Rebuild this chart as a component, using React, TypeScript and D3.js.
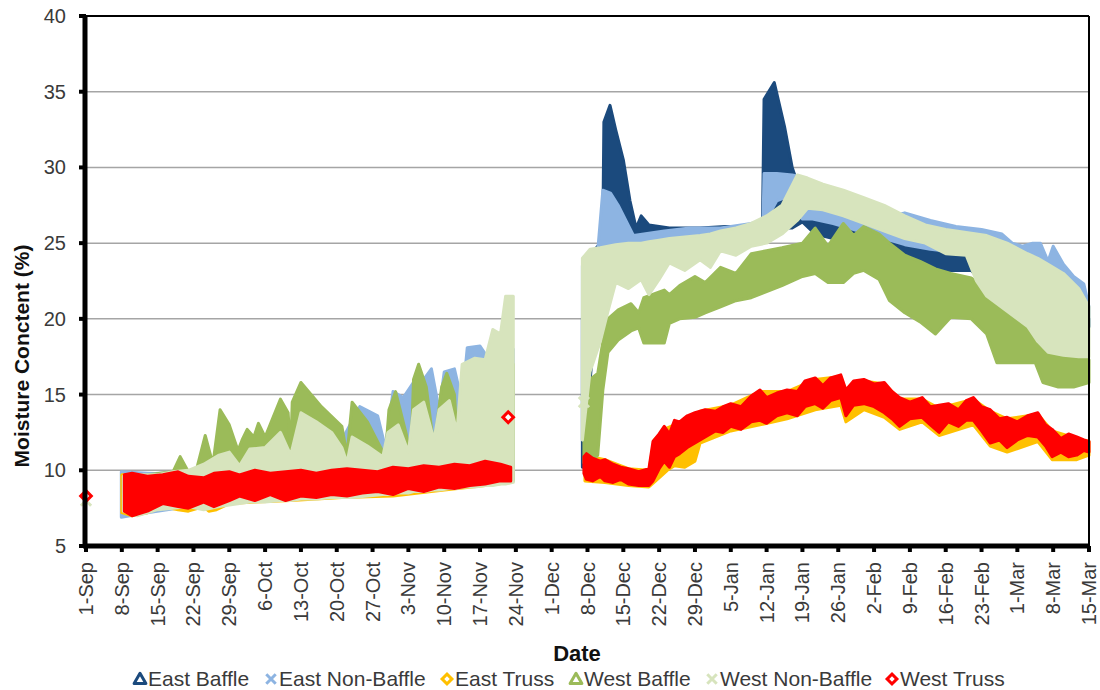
import * as d3 from 'd3';

// day offsets from 1-Sep-2011, [day, low, high] of each dense marker band
const START = Date.UTC(2011, 8, 1);
const LAST_DAY = 196;

const eastBaffleFall = [
  [7.3, 7.2, 9.7], [30, 8.0, 10.0], [60, 8.5, 10.5], [67.5, 9.0, 10.0],
  [68.2, 9.8, 12.3], [69.5, 10.0, 11.5], [70.5, 9.2, 10.0], [83.5, 9.4, 9.9],
];
const eastBaffleWinter = [
  [97, 10.2, 20.0], [98, 14.0, 24.0], [100.5, 23.5, 25.0], [101, 25.5, 26.0],
  [101.2, 25.5, 33.0], [102.4, 25.5, 34.1], [103.5, 25.5, 32.5], [105, 25.5, 30.5],
  [106.3, 25.5, 27.8], [107.5, 25.5, 26.0], [108.5, 25.6, 26.8], [110, 25.6, 26.2],
  [114, 25.6, 26.0], [120, 25.7, 26.0], [125, 25.8, 26.1], [130, 25.9, 26.1],
  [132.2, 25.9, 26.4], [132.5, 26.0, 34.5], [134.5, 26.0, 35.6], [136.5, 26.0, 32.7],
  [138, 26.0, 30.0], [140, 26.4, 28.0], [142.5, 25.6, 27.0], [146, 25.3, 26.6],
  [150, 24.9, 26.2], [154, 24.5, 25.8], [158, 24.0, 25.4], [162, 23.7, 25.0],
  [165, 23.2, 24.5], [168, 23.2, 24.3], [173, 23.2, 24.1], [175, 22.5, 23.0],
  [180, 21.5, 22.0], [185, 20.7, 21.2], [188, 20.6, 21.2], [196, 19.5, 20.0],
];

const eastNonBaffleFall = [
  [6.9, 6.9, 9.9], [12, 7.2, 9.8], [20, 7.6, 9.7], [30, 8.0, 10.2], [40, 8.2, 11.0],
  [50, 8.3, 12.0], [53.5, 8.4, 14.2], [57, 8.5, 13.6], [58.5, 8.6, 11.5],
  [60, 8.6, 15.2], [62, 8.7, 14.8], [64, 8.8, 15.8], [66, 8.8, 16.0],
  [67.5, 8.9, 16.7], [69, 9.0, 14.0], [70, 9.0, 16.5], [72, 9.1, 16.7],
  [73.5, 9.1, 14.5], [74.5, 9.2, 18.1], [77, 9.2, 18.2], [79, 9.3, 17.2],
  [81, 9.4, 18.3], [83.5, 9.5, 18.0],
];
const eastNonBaffleWinter = [
  [97, 12.0, 23.5], [98, 19.0, 24.0], [100, 22.5, 24.5], [101, 24.0, 28.5],
  [102.5, 24.2, 28.3], [104, 24.5, 27.5], [105.5, 24.7, 26.5], [107, 24.8, 25.5],
  [109, 25.0, 25.6], [113, 25.3, 25.8], [118, 25.5, 26.0], [124, 25.6, 26.0],
  [130, 25.8, 26.3], [132.3, 26.0, 26.5], [132.5, 26.3, 29.6], [135, 27.8, 29.6],
  [138, 28.2, 29.5], [139.5, 26.8, 29.4], [140, 26.6, 28.0], [142, 26.6, 27.6],
  [146, 26.3, 27.2], [150, 25.9, 26.8], [155, 25.4, 26.6], [160, 24.9, 27.0],
  [165, 24.6, 26.5], [170, 24.4, 26.1], [175, 24.2, 25.9], [179, 23.8, 25.6],
  [181, 23.3, 25.0], [183, 22.8, 24.8], [185, 22.4, 25.0], [186.5, 22.0, 25.0],
  [188, 21.5, 23.8], [189, 21.3, 24.8], [191, 21.0, 23.6], [193, 20.5, 22.8],
  [195, 20.0, 22.3], [196, 19.5, 20.8],
];

const eastTrussFall = [
  [7.0, 7.2, 9.7], [9, 7.0, 9.7], [12, 7.2, 9.5], [15, 7.6, 9.6], [18, 7.4, 9.8],
  [20, 7.3, 9.5], [23, 7.6, 9.4], [24, 7.3, 9.6], [25.5, 7.4, 9.7], [28, 7.8, 9.8],
  [33, 7.9, 9.9], [40, 8.0, 9.8], [50, 8.2, 9.9], [60, 8.3, 10.0], [70, 8.7, 10.1],
  [78, 9.0, 10.4], [83, 9.2, 10.1],
];
const eastTrussWinter = [
  [97.5, 9.3, 11.0], [101.4, 9.2, 10.7], [106, 9.0, 10.1], [110, 8.9, 10.0],
  [111, 9.2, 12.0], [113.6, 10.0, 12.8], [115, 10.3, 13.0], [117, 10.2, 13.2],
  [119, 10.6, 13.6], [120, 11.8, 13.9], [126, 12.6, 14.3], [131.7, 13.0, 15.2],
  [137, 13.4, 15.2], [142.5, 14.0, 16.0], [147.5, 14.3, 16.2], [148.5, 13.2, 15.2],
  [152, 14.0, 15.9], [156, 13.5, 15.7], [159, 12.7, 14.7], [163.4, 13.2, 14.7],
  [166.7, 12.3, 14.1], [173.4, 13.0, 14.7], [176.7, 11.6, 13.9], [180, 11.2, 13.4],
  [186, 11.9, 13.7], [188.8, 10.7, 12.6], [193.6, 10.7, 12.1], [196, 11.0, 11.9],
];

const westBaffleFall = [
  [7.3, 8.5, 9.5], [17, 9.0, 9.9], [18.4, 9.0, 10.9], [20, 9.0, 9.9], [21.7, 9.0, 10.2],
  [23.3, 9.0, 12.3], [24.8, 9.0, 10.4], [26.2, 9.0, 14.0], [28, 9.0, 13.0],
  [29.7, 9.0, 11.3], [30.5, 9.0, 12.0], [31.5, 9.0, 12.7], [32.8, 9.0, 12.2],
  [33.7, 9.0, 13.1], [35, 9.0, 12.2], [38, 9.0, 14.7], [39.5, 9.0, 13.8],
  [40, 9.0, 11.2], [40.3, 9.0, 14.5], [42, 9.0, 15.8], [46, 9.0, 14.2],
  [50, 9.0, 12.9], [51, 9.0, 11.0], [52, 9.0, 14.5], [55, 9.0, 13.2],
  [58.5, 9.0, 10.9], [59.2, 9.0, 14.0], [60.5, 9.0, 15.2], [62.5, 9.0, 12.5],
  [63.5, 9.0, 11.0], [64, 9.0, 16.0], [65, 9.0, 17.0], [66.5, 9.0, 15.5],
  [68, 9.0, 11.5], [69.5, 9.0, 15.5], [70.5, 9.0, 16.4], [72, 9.0, 15.0],
  [72.8, 9.0, 10.5], [81.5, 9.3, 10.0], [82, 9.3, 17.3], [83.5, 9.3, 17.0],
];
const westBaffleWinter = [
  [97.3, 10.5, 14.0], [98.5, 10.5, 16.0], [100, 11.0, 16.4], [101, 15.3, 18.5],
  [102, 17.8, 20.0], [104, 18.6, 20.6], [106.5, 19.2, 21.0], [108, 19.4, 20.4],
  [109, 18.4, 21.4], [113, 18.4, 21.9], [114, 19.7, 21.6], [116, 20.0, 22.2],
  [119, 20.1, 22.8], [121, 20.4, 22.4], [124, 20.8, 23.4], [127, 21.2, 23.0],
  [130, 21.4, 24.3], [133, 21.8, 24.5], [136, 22.2, 24.7], [140, 22.8, 25.0],
  [142.5, 23.0, 26.0], [145, 22.4, 24.8], [148, 22.4, 26.3], [150, 23.0, 25.5],
  [152, 23.2, 26.1], [155, 22.6, 25.6], [157, 21.2, 25.0], [160, 20.4, 24.2],
  [163, 19.8, 23.8], [166, 19.0, 23.3], [169, 20.1, 23.0], [173, 20.0, 22.7],
  [176, 19.0, 22.0], [178, 17.1, 21.7], [182, 17.1, 21.0], [185.5, 17.1, 20.4],
  [187, 15.8, 18.0], [190, 15.5, 17.6], [193, 15.5, 17.5], [196, 15.8, 17.3],
];

const westNonBaffleFall = [
  [7.3, 7.3, 9.6], [10, 7.0, 9.7], [14, 7.4, 9.7], [17, 7.5, 9.9], [20, 7.6, 10.0],
  [23, 7.4, 10.4], [26, 7.6, 11.0], [28, 7.7, 11.2], [30, 7.8, 10.3], [32, 7.9, 11.4],
  [35, 7.9, 11.5], [38, 8.0, 12.5], [40, 8.0, 11.0], [42, 8.1, 13.8], [45, 8.1, 13.2],
  [48, 8.2, 12.5], [50, 8.2, 11.5], [51, 8.2, 10.5], [52, 8.2, 12.2], [55, 8.3, 11.6],
  [58, 8.4, 10.9], [59, 8.4, 12.5], [61, 8.5, 13.0], [63, 8.5, 11.2], [64, 8.6, 14.0],
  [66, 8.6, 14.5], [68, 8.7, 12.0], [69, 8.7, 14.0], [71, 8.8, 14.6], [72.5, 8.8, 12.5],
  [73.5, 8.9, 17.0], [76, 8.9, 17.4], [78, 9.0, 17.3], [79.5, 9.0, 19.3],
  [81, 9.1, 19.0], [82, 9.1, 21.5], [83.5, 9.2, 21.5],
];
const westNonBaffleWinter = [
  [97, 12.0, 24.0], [98.5, 16.5, 24.6], [100.5, 18.5, 24.7], [102, 20.5, 24.8],
  [103.5, 22.4, 24.9], [106, 22.0, 25.0], [108.5, 22.6, 25.0], [110, 21.6, 25.1],
  [112, 22.6, 25.2], [114, 23.7, 25.3], [117, 23.2, 25.4], [120, 23.9, 25.5],
  [122, 23.4, 25.6], [124, 24.5, 25.8], [127, 24.2, 26.0], [130, 24.8, 26.3],
  [133, 25.0, 26.8], [136, 25.6, 27.5], [139, 26.5, 29.5], [141, 27.3, 29.3],
  [144, 27.2, 28.9], [148, 26.8, 28.5], [152, 26.3, 28.0], [156, 25.8, 27.5],
  [160, 25.3, 26.8], [164, 25.0, 26.2], [168, 24.3, 25.9], [172, 24.2, 25.7],
  [174, 22.5, 25.6], [176, 21.5, 25.5], [180, 20.5, 25.0], [184, 19.5, 24.3],
  [186, 18.5, 24.0], [188, 17.8, 23.6], [191, 17.6, 23.0], [194, 17.5, 22.0],
  [196, 17.5, 20.8],
];

const westTrussFall = [
  [7.5, 7.3, 9.7], [9, 7.0, 9.8], [12, 7.3, 9.6], [15, 7.8, 9.7], [18, 7.6, 9.9],
  [20, 7.5, 9.6], [23, 7.9, 9.5], [25, 7.6, 9.8], [28, 8.0, 9.9], [30, 8.3, 9.7],
  [33, 8.0, 10.0], [36, 8.4, 9.8], [39, 8.0, 9.9], [42, 8.3, 10.0], [45, 8.2, 9.8],
  [48, 8.4, 10.0], [51, 8.3, 10.1], [54, 8.5, 10.0], [57, 8.6, 9.9], [60, 8.4, 10.2],
  [63, 8.8, 10.1], [66, 8.6, 10.3], [69, 8.9, 10.2], [72, 8.8, 10.4], [75, 9.0, 10.3],
  [78, 9.1, 10.6], [81, 9.3, 10.4], [83, 9.3, 10.2],
];
const westTrussWinter = [
  [97.3, 9.8, 10.9], [97.8, 9.4, 11.1], [99, 9.3, 10.8], [100.5, 9.6, 10.6],
  [101.4, 9.3, 10.7], [103, 9.2, 10.4], [104.5, 9.4, 10.2], [106, 9.1, 10.1],
  [108, 9.0, 9.9], [110, 9.0, 10.1], [110.8, 9.3, 11.9], [112, 10.1, 12.4],
  [113, 10.6, 12.9], [114, 10.2, 12.4], [115, 10.9, 13.3], [116, 11.1, 13.2],
  [117.5, 11.5, 13.6], [119, 11.8, 13.8], [121, 12.2, 14.0], [123, 12.6, 13.9],
  [124.5, 12.5, 14.2], [126, 12.9, 14.4], [128, 12.7, 14.2], [130, 13.2, 14.9],
  [131.7, 13.3, 15.3], [133, 13.1, 14.8], [135, 13.6, 15.1], [137, 13.8, 15.3],
  [139, 13.6, 15.2], [140.5, 14.2, 15.9], [142.5, 14.4, 16.1], [144, 14.1, 15.6],
  [145.5, 14.6, 16.1], [147.5, 14.8, 16.3], [148.5, 13.6, 15.3], [150, 14.3, 15.9],
  [152, 14.4, 16.0], [154, 14.2, 15.7], [156, 13.8, 15.8], [157.5, 13.4, 15.2],
  [159, 12.9, 14.8], [161, 13.4, 14.5], [163.4, 13.5, 14.8], [165, 13.0, 14.2],
  [166.7, 12.5, 14.3], [168.5, 13.2, 14.4], [170.5, 12.9, 14.0], [172, 13.3, 14.6],
  [173.4, 13.3, 14.8], [175, 12.6, 14.2], [176.7, 11.8, 14.0], [178.5, 12.0, 13.4],
  [180, 11.5, 13.5], [182, 12.0, 13.2], [184, 12.3, 13.6], [186, 12.2, 13.8],
  [187.5, 11.6, 13.0], [188.8, 10.9, 12.7], [190.5, 11.2, 12.1], [192, 10.9, 12.4],
  [193.6, 11.0, 12.2], [195, 11.3, 12.0], [196, 11.2, 11.9],
];

// lone readings: [series index, day, value]
const singlePoints = [
  [4, 0, 8.0], [5, 0, 8.3], [5, 82.5, 13.5], [4, 97.3, 14.5],
];

const seriesNames = ['East Baffle', 'East Non-Baffle', 'East Truss', 'West Baffle', 'West Non-Baffle', 'West Truss'];
const seriesColors = ['#1b4a7d', '#8db4e2', '#ffc000', '#9bbb59', '#d7e4bd', '#ff0000'];
const seriesShapes = ['triangle', 'x', 'diamond', 'triangle', 'x', 'diamond'];
const seriesBands = [
  [eastBaffleFall, eastBaffleWinter],
  [eastNonBaffleFall, eastNonBaffleWinter],
  [eastTrussFall, eastTrussWinter],
  [westBaffleFall, westBaffleWinter],
  [westNonBaffleFall, westNonBaffleWinter],
  [westTrussFall, westTrussWinter],
];
const yTicks = [5, 10, 15, 20, 25, 30, 35, 40];

const W = 1100;
const H = 690;
const M = { left: 86, right: 1089, top: 16, bottom: 546 };
const FONT = '"Liberation Sans", Arial, sans-serif';

const toDate = (d: number) => new Date(START + d * 86400000);

function Marker({ shape, color, cx, cy, size }: { shape: string; color: string; cx: number; cy: number; size: number }) {
  if (shape === 'x') {
    const p = d3.symbol(d3.symbolX, size)();
    return <path d={p || ''} transform={`translate(${cx},${cy})`} fill="none" stroke={color} strokeWidth={3} />;
  }
  if (shape === 'diamond') {
    const p = d3.symbol(d3.symbolSquare, size * 0.8)();
    return <path d={p || ''} transform={`translate(${cx},${cy}) rotate(45)`} fill="#fff" stroke={color} strokeWidth={3} />;
  }
  const p = d3.symbol(d3.symbolTriangle, size)();
  return <path d={p || ''} transform={`translate(${cx},${cy + 1})`} fill="#fff" stroke={color} strokeWidth={3} strokeLinejoin="round" />;
}

export default function App() {
  const x = d3.scaleUtc().domain([toDate(0), toDate(LAST_DAY)]).range([M.left, M.right]);
  const y = d3.scaleLinear().domain([5, 40]).range([M.bottom, M.top]);
  const xTicks = d3.range(0, LAST_DAY + 1, 7).map(toDate);
  const fmt = d3.utcFormat('%-d-%b');

  const area = d3
    .area<number[]>()
    .x((d) => x(toDate(d[0])))
    .y0((d) => y(d[1]))
    .y1((d) => y(d[2]))
    .curve(d3.curveLinear);

  // legend marker centres
  const legendX = [140, 271, 447, 576, 712, 892];

  return (
    <svg width={W} height={H} style={{ position: 'absolute', left: 0, top: 0, background: '#fff' }} fontFamily={FONT}>
      <rect width={W} height={H} fill="#fff" />
      {/* gridlines */}
      {yTicks.slice(1, -1).map((t) => (
        <line key={t} x1={M.left} x2={M.right} y1={y(t)} y2={y(t)} stroke="#a5a5a5" strokeWidth={1.5} />
      ))}

      {/* series bands */}
      {seriesBands.map((bands, i) =>
        bands.map((b, j) => (
          <path
            key={`${i}-${j}`}
            d={area(b) || ''}
            fill={seriesColors[i]}
            stroke={seriesColors[i]}
            strokeWidth={3}
            strokeLinejoin="round"
          />
        ))
      )}
      {singlePoints.map(([s, d, v], k) => (
        <Marker key={k} shape={seriesShapes[s]} color={seriesColors[s]} cx={x(toDate(d))} cy={y(v)} size={70} />
      ))}

      {/* frame */}
      <line x1={M.left} x2={M.right} y1={M.top} y2={M.top} stroke="#000" strokeWidth={2} />
      <line x1={M.right} x2={M.right} y1={M.top} y2={M.bottom} stroke="#000" strokeWidth={2} />
      <line x1={M.left - 1} x2={M.left - 1} y1={M.top - 1} y2={M.bottom + 2} stroke="#000" strokeWidth={5} />
      <line x1={M.left - 3} x2={M.right + 1} y1={M.bottom} y2={M.bottom} stroke="#000" strokeWidth={5} />

      {/* y axis */}
      {yTicks.map((t) => (
        <g key={t}>
          <line x1={M.left - 7} x2={M.left} y1={y(t)} y2={y(t)} stroke="#000" strokeWidth={4} />
          <text x={66} y={y(t)} dy="0.35em" textAnchor="end" fontSize={20} fill="#3a3a3a">
            {t}
          </text>
        </g>
      ))}
      <text
        transform={`translate(22,356) rotate(-90)`}
        dy="0.35em"
        textAnchor="middle"
        fontSize={21}
        fontWeight="bold"
        fill="#111"
      >
        Moisture Conctent (%)
      </text>

      {/* x axis */}
      {xTicks.map((t, k) => (
        <g key={k}>
          <line x1={x(t)} x2={x(t)} y1={M.bottom} y2={M.bottom + 6} stroke="#000" strokeWidth={4} />
          <text
            transform={`translate(${x(t)},${M.bottom + 16}) rotate(-90)`}
            dy="0.35em"
            textAnchor="end"
            fontSize={20}
            fill="#3a3a3a"
          >
            {fmt(t)}
          </text>
        </g>
      ))}
      <text x={577} y={661} textAnchor="middle" fontSize={22} fontWeight="bold" fill="#111">
        Date
      </text>

      {/* legend */}
      {seriesNames.map((name, i) => (
        <g key={name}>
          <Marker shape={seriesShapes[i]} color={seriesColors[i]} cx={legendX[i]} cy={679} size={60} />
          <text x={legendX[i] + 8} y={686} fontSize={21} fill="#3a3a3a">
            {name}
          </text>
        </g>
      ))}
    </svg>
  );
}
